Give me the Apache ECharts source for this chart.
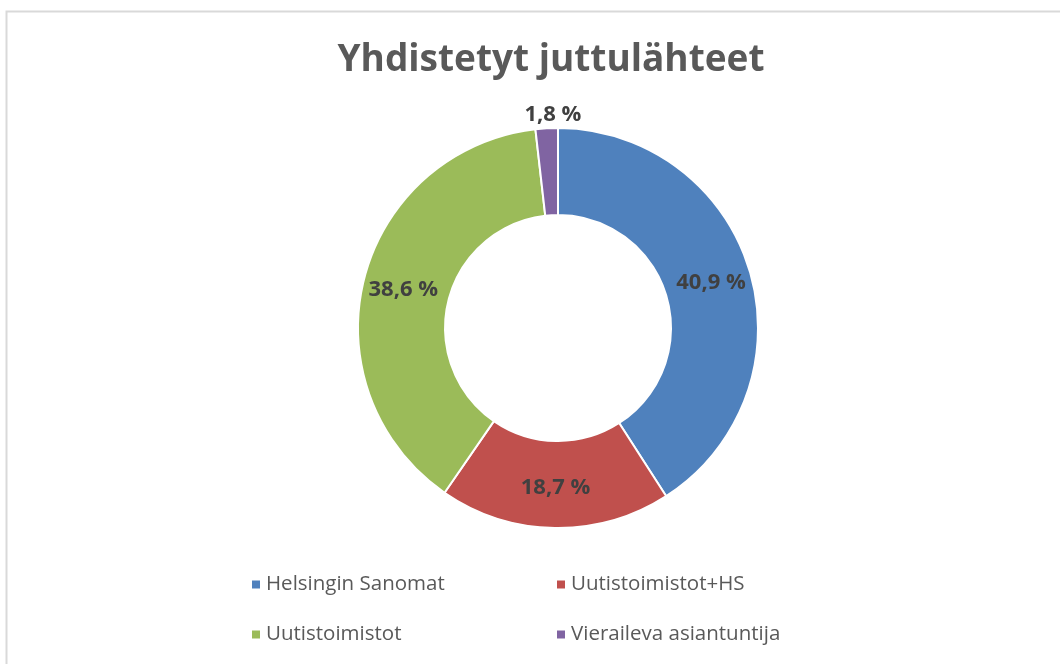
<!DOCTYPE html>
<html>
<head>
<meta charset="utf-8">
<script src="https://cdn.jsdelivr.net/npm/echarts@6/dist/echarts.min.js"></script>
<style>
  html, body { margin: 0; padding: 0; background: #fff; }
  #chart { width: 1060px; height: 664px; }
</style>
</head>
<body>
<div id="chart"></div>
<script>
// 数据
const titleText = 'Yhdistetyt juttulähteet';
const categories = ['Helsingin Sanomat', 'Uutistoimistot+HS', 'Uutistoimistot', 'Vieraileva asiantuntija'];
const shares = [40.9, 18.7, 38.6, 1.8];
const colors = ['#4F81BD', '#C0504D', '#9BBB59', '#8064A2'];

const FONT = '"Open Sans", "Noto Sans", sans-serif';

const myChart = echarts.init(document.getElementById('chart'));

const pieData = categories.map((name, i) => {
    const item = { name: name, value: shares[i], itemStyle: { color: colors[i] } };
    // 最小的扇区标签放在外面
    if (i === 3) {
        item.label = { position: 'outside' };
        item.labelLine = { show: false, length: 14, length2: 0 };
    }
    return item;
});

const legendBase = {
    orient: 'vertical',
    top: 569,
    itemGap: 29,
    itemWidth: 10,
    itemHeight: 10,
    icon: 'rect',
    textStyle: { fontFamily: FONT, fontSize: 20.5, color: '#595959' }
};

const option = {
    backgroundColor: '#fff',
    animation: false,
    graphic: [{
        type: 'rect',
        shape: { x: 6.5, y: 11.5, width: 1100, height: 700 },
        style: { fill: null, stroke: '#d9d9d9', lineWidth: 2 },
        silent: true
    }],
    title: {
        text: titleText,
        left: 546,
        textAlign: 'center',
        top: 37,
        textStyle: { fontFamily: FONT, fontSize: 37, fontWeight: 'bold', color: '#595959' }
    },
    legend: [
        Object.assign({ data: [categories[0], categories[2]], left: 245 }, legendBase),
        Object.assign({ data: [categories[1], categories[3]], left: 550 }, legendBase)
    ],
    series: [{
        type: 'pie',
        center: [558, 328],
        radius: [113, 200],
        startAngle: 90,
        clockwise: true,
        avoidLabelOverlap: false,
        itemStyle: { borderColor: '#fff', borderWidth: 2 },
        label: {
            show: true,
            position: 'inside',
            fontFamily: FONT,
            fontSize: 22,
            fontWeight: 'bold',
            color: '#404040',
            formatter: p => p.value.toFixed(1).replace('.', ',') + ' %'
        },
        labelLayout: p => (p.dataIndex === 3 ? { align: 'center', dx: 12 } : {}),
        emphasis: { disabled: true },
        data: pieData
    }]
};

myChart.setOption(option);
</script>
</body>
</html>
